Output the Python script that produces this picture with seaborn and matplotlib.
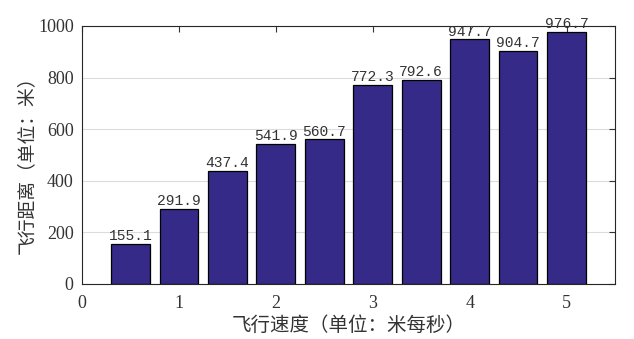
import matplotlib
matplotlib.use("Agg")
import matplotlib.pyplot as plt
import seaborn as sns
import pandas as pd

speed = [0.5, 1.0, 1.5, 2.0, 2.5, 3.0, 3.5, 4.0, 4.5, 5.0]
distance = [155.1, 291.9, 437.4, 541.9, 560.7, 772.3, 792.6, 947.7, 904.7, 976.7]
xticks = [0, 1, 2, 3, 4, 5]
yticks = [0, 200, 400, 600, 800, 1000]
xlabel = "飞行速度（单位：米每秒）"
ylabel = "飞行距离（单位：米）"

sns.set_style("white")
plt.rcParams['font.family'] = ['Liberation Serif', 'Noto Sans CJK SC']

df = pd.DataFrame({"speed": speed, "distance": distance})

fig = plt.figure(figsize=(6.34, 3.39), dpi=100)
ax = fig.add_axes([82/634, 1 - 284/339, (615-82)/634, (284-26)/339])

sns.barplot(data=df, x="speed", y="distance", native_scale=True, width=0.8,
            color="#352a87", saturation=1, edgecolor="black", linewidth=0.9, ax=ax)

ax.bar_label(ax.containers[0], fmt="%.1f", padding=0.5,
             fontsize=10.5, family=['Liberation Mono', 'DejaVu Sans Mono'], color="#333333")

ax.set_xlim(0, 5.5)
ax.set_ylim(0, 1000)
ax.set_xticks(xticks)
ax.set_yticks(yticks)
ax.set_xticklabels([str(t) for t in xticks])
ax.set_yticklabels([str(t) for t in yticks])
ax.tick_params(axis='both', direction='in', top=True, right=True, length=4,
               width=0.8, labelsize=13, colors="#333333")
ax.tick_params(axis='x', pad=8)
ax.tick_params(axis='y', pad=6)
ax.yaxis.grid(True, color="#dcdcdc", linewidth=0.8)
ax.set_axisbelow(True)
for s in ax.spines.values():
    s.set_visible(True)
    s.set_color("#262626")
    s.set_linewidth(0.8)

ax.set_xlabel(xlabel, fontsize=14, color="#333333", labelpad=3)
ax.set_ylabel(ylabel, fontsize=13.5, color="#333333", labelpad=2)
ax.yaxis.set_label_coords(-0.085, 0.48)

fig.savefig("out.png", dpi=100)
